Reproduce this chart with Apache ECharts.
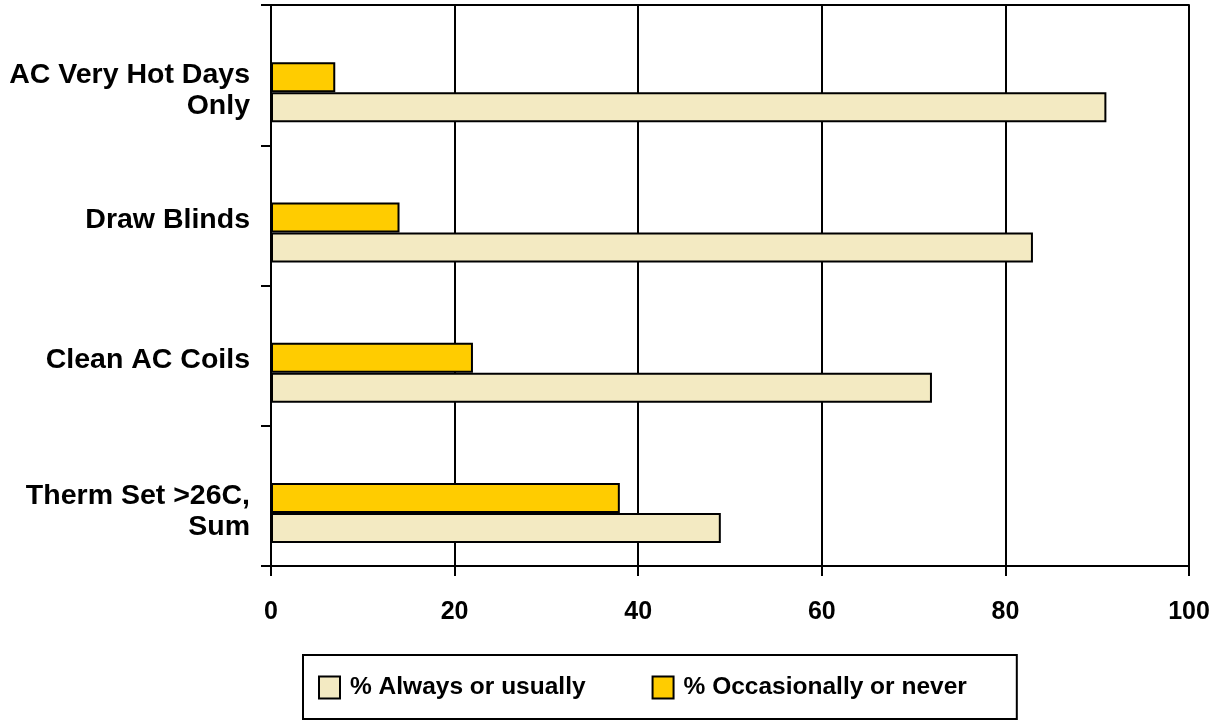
<!DOCTYPE html>
<html>
<head>
<meta charset="utf-8">
<script src="https://cdn.jsdelivr.net/npm/echarts@6/dist/echarts.min.js"></script>
<style>
  html, body { margin: 0; padding: 0; background: #fff; }
  #chart { width: 1221px; height: 723px; }
</style>
</head>
<body>
<div id="chart"></div>
<script>
// Categories, top to bottom
const categories = ['AC Very Hot Days\nOnly', 'Draw Blinds', 'Clean AC Coils', 'Therm Set >26C,\nSum'];
// Share of respondents (%)
const occasionallyOrNever = [7, 14, 22, 38];
const alwaysOrUsually = [91, 83, 72, 49];
const xTicks = [0, 20, 40, 60, 80, 100];

const FONT = '"Liberation Sans", Arial, sans-serif';
const chart = echarts.init(document.getElementById('chart'));

// category labels sit a little below the band centre; a blank leading row pushes them down
function categoryLabel(v) {
  const lines = v.split('\n').map(s => '{t|' + s + '}');
  return (lines.length > 1 ? '{g2| }' : '{g1| }') + '\n' + lines.join('\n');
}

chart.setOption({
  animation: false,
  backgroundColor: '#fff',
  grid: { left: 271, right: 32, top: 5, bottom: 157, containLabel: false },
  xAxis: [{
    type: 'value',
    min: xTicks[0], max: xTicks[xTicks.length - 1], interval: xTicks[1] - xTicks[0],
    axisLine: { show: true, lineStyle: { color: '#000', width: 2 } },
    axisTick: { show: true, length: 10, lineStyle: { color: '#000', width: 2 } },
    axisLabel: { color: '#000', fontFamily: FONT, fontWeight: 'bold', fontSize: 25, margin: 34 },
    splitLine: { show: true, lineStyle: { color: '#000', width: 2 } }
  }, {
    // top border of the plot area
    type: 'value', position: 'top',
    min: xTicks[0], max: xTicks[xTicks.length - 1],
    axisLine: { show: true, lineStyle: { color: '#000', width: 2 } },
    axisTick: { show: false }, axisLabel: { show: false }, splitLine: { show: false }
  }],
  yAxis: {
    type: 'category', inverse: true, data: categories,
    axisLine: { show: true, lineStyle: { color: '#000', width: 2 } },
    axisTick: { show: true, length: 10, lineStyle: { color: '#000', width: 2 } },
    axisLabel: {
      color: '#000', margin: 21, align: 'right',
      formatter: categoryLabel,
      rich: {
        t: { fontFamily: FONT, fontWeight: 'bold', fontSize: 28.5, lineHeight: 31, color: '#000', align: 'right' },
        g1: { fontSize: 1, lineHeight: 10 },
        g2: { fontSize: 1, lineHeight: 32 }
      }
    },
    splitLine: { show: false }
  },
  legend: {
    data: ['% Always or usually', '% Occasionally or never'],
    left: 303, top: 655,
    orient: 'horizontal',
    padding: [20, 50, 19, 15],
    itemGap: 66, itemWidth: 21, itemHeight: 22,
    borderColor: '#000', borderWidth: 2,
    icon: 'rect',
    textStyle: { color: '#000', fontFamily: FONT, fontWeight: 'bold', fontSize: 24.5, padding: [0, 0, 0, 5] }
  },
  series: [{
    // empty spacer slot that pushes the visible pair down inside each band
    name: 'spacer', type: 'bar', barWidth: 34, barGap: 0,
    data: categories.map(() => '-'),
    itemStyle: { color: 'transparent' }, silent: true
  }, {
    name: '% Occasionally or never', type: 'bar', barWidth: 30, barGap: 0,
    data: occasionallyOrNever,
    itemStyle: { color: '#FFCC00', borderColor: '#000', borderWidth: 2 }
  }, {
    name: '% Always or usually', type: 'bar', barWidth: 30, barGap: 0,
    data: alwaysOrUsually,
    itemStyle: { color: '#F3EAC2', borderColor: '#000', borderWidth: 2 }
  }]
});
</script>
</body>
</html>
